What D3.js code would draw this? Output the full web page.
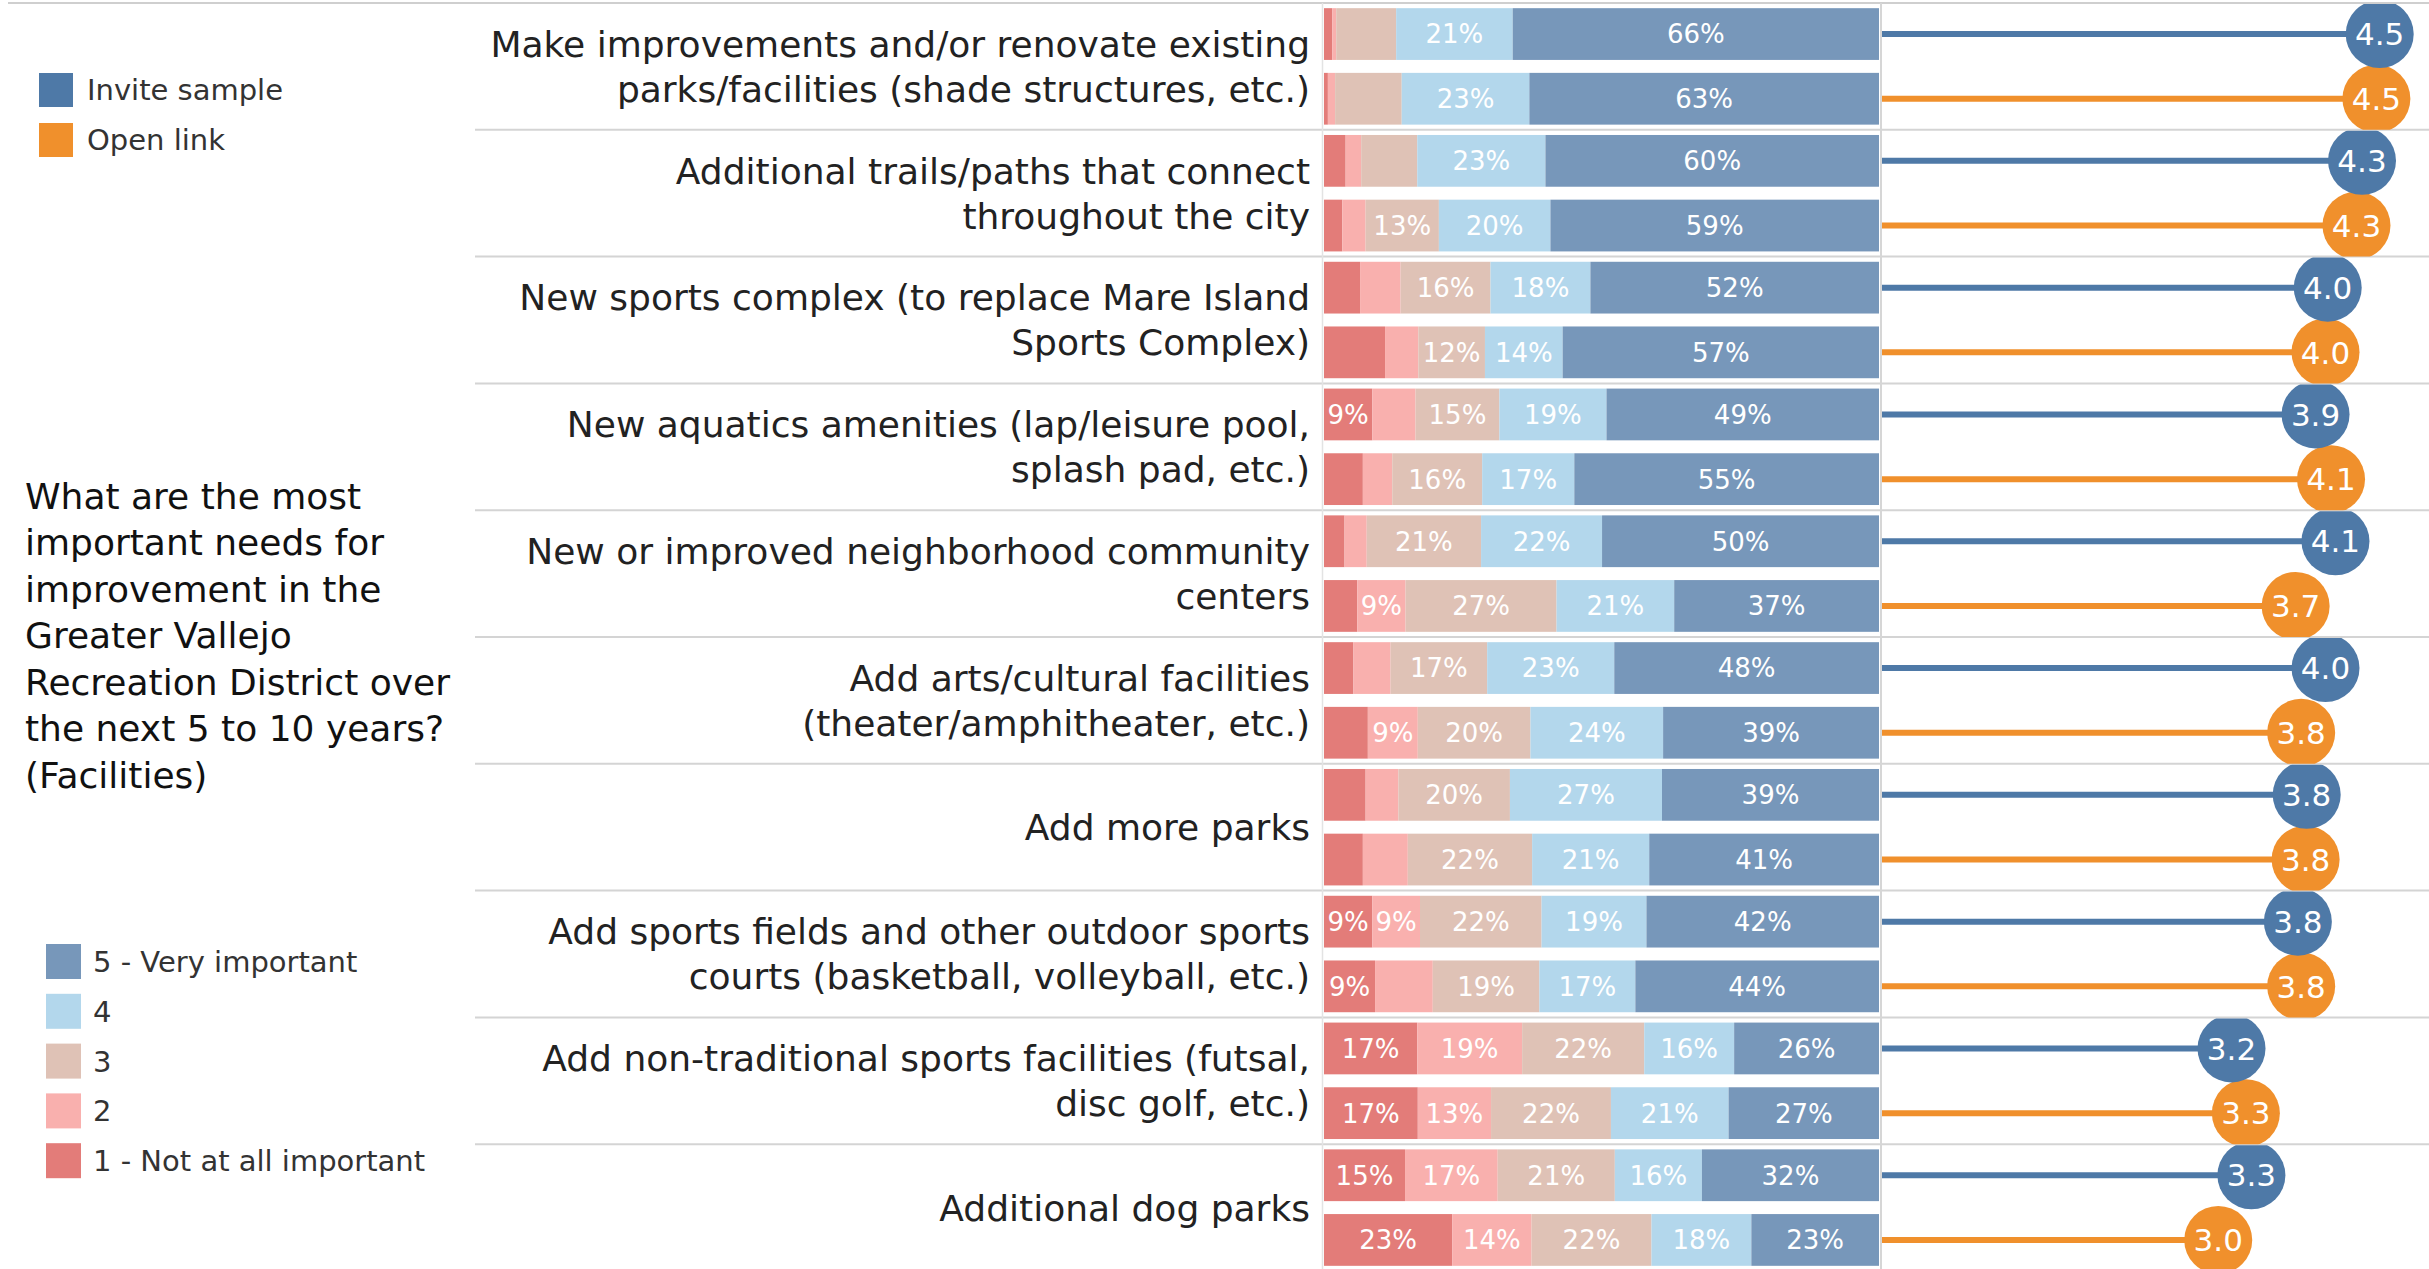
<!DOCTYPE html>
<html>
<head>
<meta charset="utf-8">
<script src="https://cdn.jsdelivr.net/npm/d3@7"></script>
<style>
  html, body { margin: 0; padding: 0; background: #fff; }
  svg { display: block; font-family: "DejaVu Sans", sans-serif; }
</style>
</head>
<body>
<div id="chart"></div>
<script>
var categories = [
    'Make improvements and/or renovate existing\nparks/facilities (shade structures, etc.)',
    'Additional trails/paths that connect\nthroughout the city',
    'New sports complex (to replace Mare Island\nSports Complex)',
    'New aquatics amenities (lap/leisure pool,\nsplash pad, etc.)',
    'New or improved neighborhood community\ncenters',
    'Add arts/cultural facilities\n(theater/amphitheater, etc.)',
    'Add more parks',
    'Add sports fields and other outdoor sports\ncourts (basketball, volleyball, etc.)',
    'Add non-traditional sports facilities (futsal,\ndisc golf, etc.)',
    'Additional dog parks'
];
var series = ['Invite sample', 'Open link'];
var levels = ['1 - Not at all important', '2', '3', '4', '5 - Very important'];

// % of answers per level (1..5)
var inviteShares = [
    [1.5, 0.7, 10.8, 21.0, 66.0],
    [3.9, 2.8, 10.1, 23.1, 60.1],
    [6.5, 7.3, 16.2, 18.0, 52.0],
    [8.7, 7.8, 15.1, 19.3, 49.1],
    [3.7, 4.0, 20.6, 21.8, 49.9],
    [5.3, 6.7, 17.4, 22.9, 47.7],
    [7.5, 5.9, 20.1, 27.4, 39.1],
    [8.7, 8.6, 21.9, 18.9, 41.9],
    [16.8, 18.9, 22.0, 16.2, 26.1],
    [14.6, 16.7, 21.1, 15.7, 31.9]
];
var openShares = [
    [0.7, 1.3, 12.0, 23.0, 63.0],
    [3.3, 4.2, 13.2, 20.1, 59.2],
    [11.0, 6.0, 12.0, 14.0, 57.0],
    [7.0, 5.3, 16.2, 16.6, 54.9],
    [6.0, 8.7, 27.2, 21.2, 36.9],
    [7.9, 9.0, 20.3, 23.9, 38.9],
    [7.0, 8.1, 22.4, 21.1, 41.4],
    [9.2, 10.4, 19.2, 17.3, 43.9],
    [16.9, 13.2, 21.6, 21.2, 27.1],
    [23.1, 14.3, 21.6, 18.0, 23.0]
];
var inviteMeans = [4.50, 4.34, 4.03, 3.92, 4.10, 4.01, 3.84, 3.76, 3.16, 3.34];
var openMeans = [4.47, 4.29, 4.01, 4.06, 3.74, 3.79, 3.83, 3.79, 3.29, 3.04];

// segments the original leaves without a label: [row, series, level]
var unlabeled = [[0, 0, 2], [0, 1, 2], [1, 0, 2], [2, 1, 0], [7, 1, 1]];

var questionLines = ['What are the most', 'important needs for', 'improvement in the',
    'Greater Vallejo', 'Recreation District over', 'the next 5 to 10 years?', '(Facilities)'];

var width = 2429, height = 1269;

var svg = d3.select('#chart').append('svg')
    .attr('width', width)
    .attr('height', height);

var levelColor = d3.scaleOrdinal()
    .domain(levels)
    .range(['#e37c79', '#f9b0ae', '#dfc2b6', '#b3d7ec', '#7797ba']);
var seriesColor = d3.scaleOrdinal()
    .domain(series)
    .range(['#4e79a7', '#f0902c']);

var y = d3.scaleBand().domain(categories).range([3, 3 + 126.8 * categories.length]);
var ySub = d3.scaleBand().domain(series).range([0, y.bandwidth()])
    .paddingInner(0.2).paddingOuter(0.08);
var xBar = d3.scaleLinear().domain([0, 100]).range([1324, 1879]);
var xMean = d3.scaleLinear().domain([0, 5]).range([1882, 2435]);

var rows = categories.map(function (c, i) {
    return {
        cat: c, idx: i,
        series: [
            { name: series[0], si: 0, shares: inviteShares[i], mean: inviteMeans[i] },
            { name: series[1], si: 1, shares: openShares[i], mean: openMeans[i] }
        ]
    };
});
rows.forEach(function (r) {
    r.series.forEach(function (s) {
        var acc = 0;
        s.segs = s.shares.map(function (v, li) {
            var seg = { row: r.idx, si: s.si, li: li, v: v, x0: acc, x1: acc + v };
            acc += v;
            return seg;
        });
    });
});
var isHidden = function (d) {
    return unlabeled.some(function (u) { return u[0] === d.row && u[1] === d.si && u[2] === d.li; });
};

// grid lines
svg.append('line')
    .attr('x1', 8).attr('x2', width)
    .attr('y1', y.range()[0]).attr('y2', y.range()[0])
    .style('stroke', '#cfcfcf').style('stroke-width', 2);
svg.selectAll('.sep')
    .data(categories.slice(1))
    .enter()
    .append('line')
    .attr('class', 'sep')
    .attr('x1', 475).attr('x2', width)
    .attr('y1', function (d) { return y(d); })
    .attr('y2', function (d) { return y(d); })
    .style('stroke', '#d4d4d4').style('stroke-width', 2);
svg.append('line')
    .attr('x1', xBar(0) - 1.5).attr('x2', xBar(0) - 1.5)
    .attr('y1', y.range()[0]).attr('y2', height)
    .style('stroke', '#e3e3e3').style('stroke-width', 1.5);
svg.append('line')
    .attr('x1', xMean(0) - 1).attr('x2', xMean(0) - 1)
    .attr('y1', y.range()[0]).attr('y2', height)
    .style('stroke', '#d6d6d6').style('stroke-width', 2);

// clip each group so circles stop at the row lines
var defs = svg.append('defs');
rows.forEach(function (r) {
    defs.append('clipPath').attr('id', 'clip' + r.idx)
        .append('rect')
        .attr('x', 0).attr('width', width)
        .attr('y', y(r.cat) + 1).attr('height', y.bandwidth() - 1);
});

var groups = svg.selectAll('.group')
    .data(rows)
    .enter()
    .append('g')
    .attr('class', 'group')
    .attr('transform', function (d) { return 'translate(0,' + y(d.cat) + ')'; });

// row labels
groups.append('text')
    .attr('text-anchor', 'end')
    .style('font-size', '36px')
    .style('fill', '#222')
    .each(function (d) {
        var lines = d.cat.split('\n');
        var mid = y.bandwidth() / 2;
        d3.select(this).selectAll('tspan')
            .data(lines)
            .enter()
            .append('tspan')
            .attr('x', 1310)
            .attr('y', function (l, i) { return mid + (i - (lines.length - 1) / 2) * 45; })
            .attr('dy', '0.36em')
            .text(function (l) { return l; });
    });

// stacked bars
var barRows = groups.selectAll('.barrow')
    .data(function (d) { return d.series; })
    .enter()
    .append('g')
    .attr('class', 'barrow')
    .attr('transform', function (s) { return 'translate(0,' + ySub(s.name) + ')'; });

barRows.selectAll('rect')
    .data(function (s) { return s.segs; })
    .enter()
    .append('rect')
    .attr('x', function (d) { return xBar(d.x0); })
    .attr('width', function (d) { return xBar(d.x1) - xBar(d.x0); })
    .attr('y', 0)
    .attr('height', ySub.bandwidth())
    .style('fill', function (d) { return levelColor(levels[d.li]); });

barRows.selectAll('.pct')
    .data(function (s) { return s.segs.filter(function (d) { return d.v >= 8.5 && !isHidden(d); }); })
    .enter()
    .append('text')
    .attr('class', 'pct')
    .attr('x', function (d) { return xBar((d.x0 + d.x1) / 2); })
    .attr('y', ySub.bandwidth() / 2)
    .attr('dy', '0.36em')
    .attr('text-anchor', 'middle')
    .style('font-size', '26px')
    .style('fill', '#fff')
    .text(function (d) { return Math.round(d.v) + '%'; });

// lollipops (open link drawn first so invite sits on top)
var pops = groups.append('g')
    .attr('clip-path', function (d) { return 'url(#clip' + d.idx + ')'; })
    .attr('transform', function (d) { return 'translate(0,' + (-y(d.cat)) + ')'; })
    .selectAll('.pop')
    .data(function (d) {
        return d.series.slice().reverse().map(function (s) {
            return { mean: s.mean, name: s.name, cy: y(d.cat) + ySub(s.name) + ySub.bandwidth() / 2 };
        });
    })
    .enter()
    .append('g')
    .attr('class', 'pop');

pops.append('line')
    .attr('x1', xMean(0))
    .attr('x2', function (d) { return xMean(d.mean); })
    .attr('y1', function (d) { return d.cy; })
    .attr('y2', function (d) { return d.cy; })
    .style('stroke', function (d) { return seriesColor(d.name); })
    .style('stroke-width', 6);
pops.append('circle')
    .attr('cx', function (d) { return xMean(d.mean); })
    .attr('cy', function (d) { return d.cy; })
    .attr('r', 34)
    .style('fill', function (d) { return seriesColor(d.name); });
pops.append('text')
    .attr('x', function (d) { return xMean(d.mean); })
    .attr('y', function (d) { return d.cy; })
    .attr('dy', '0.36em')
    .attr('text-anchor', 'middle')
    .style('font-size', '31px')
    .style('fill', '#fff')
    .text(function (d) { return d3.format('.1f')(d.mean); });

// series legend
var leg1 = svg.selectAll('.leg1')
    .data(series)
    .enter()
    .append('g')
    .attr('class', 'leg1')
    .attr('transform', function (d, i) { return 'translate(39,' + (73 + i * 50) + ')'; });
leg1.append('rect').attr('width', 34).attr('height', 34)
    .style('fill', function (d) { return seriesColor(d); });
leg1.append('text').attr('x', 48).attr('y', 17).attr('dy', '0.36em')
    .style('font-size', '29px').style('fill', '#333')
    .text(function (d) { return d; });

// question
svg.append('text')
    .style('font-size', '36px')
    .style('fill', '#111')
    .selectAll('tspan')
    .data(questionLines)
    .enter()
    .append('tspan')
    .attr('x', 25)
    .attr('y', function (d, i) { return 496 + i * 46.5; })
    .attr('dy', '0.36em')
    .text(function (d) { return d; });

// level legend
var leg2 = svg.selectAll('.leg2')
    .data(levels.slice().reverse())
    .enter()
    .append('g')
    .attr('class', 'leg2')
    .attr('transform', function (d, i) { return 'translate(46,' + (944 + i * 49.8) + ')'; });
leg2.append('rect').attr('width', 35).attr('height', 35)
    .style('fill', function (d) { return levelColor(d); });
leg2.append('text').attr('x', 47).attr('y', 17.5).attr('dy', '0.36em')
    .style('font-size', '29px').style('fill', '#333')
    .text(function (d) { return d; });
</script>
</body>
</html>
